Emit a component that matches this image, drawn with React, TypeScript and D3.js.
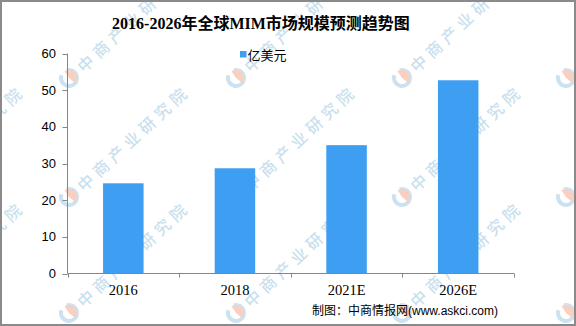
import React, { useEffect } from 'react';
import * as d3 from 'd3';

const categories = ['2016', '2018', '2021E', '2026E'];
const values = [24.6, 28.7, 35.0, 52.7];
const yTicks = [0, 10, 20, 30, 40, 50, 60];
const title = '2016-2026年全球MIM市场规模预测趋势图';
const seriesName = '亿美元';
const source = '制图：中商情报网(www.askci.com)';
const watermark = '中商产业研究院';
const wmXs = [-96, 69, 236, 402, 566];
const wmYs = [78, 197, 313];

const W = 576;
const H = 326;
const BAR = '#3d9ef2';
const AXIS = '#868686';

function Logo() {
  const arc = d3.arc();
  const blueArc = arc({ innerRadius: 6, outerRadius: 10, startAngle: Math.PI * 0.15, endAngle: Math.PI * 1.85 }) as string;
  const peach = arc({ innerRadius: 0, outerRadius: 8, startAngle: Math.PI * 0.05, endAngle: Math.PI * 0.95 }) as string;
  return (
    <g>
      <path d={blueArc} fill="#cde2f0" />
      <path d={peach} fill="#f7d0c0" />
    </g>
  );
}

export default function App() {
  useEffect(() => {
    document.body.style.margin = '0';
  }, []);

  const x = d3.scaleBand<string>().domain(categories).range([67.5, 514]).paddingInner(0.637).paddingOuter(0.3185);
  const y = d3.scaleLinear().domain([0, 60]).range([273.5, 53.5]);
  const step = x.step();
  const edges = d3.range(categories.length + 1).map((i) => 67.5 + i * step);

  return (
    <svg width={W} height={H} style={{ display: 'block', position: 'absolute', left: 0, top: 0 }}>
      <rect x={0} y={0} width={W} height={H} fill="#ffffff" />
      {/* watermark */}
      <g>
        {wmYs.map((wy) =>
          wmXs.map((wx) => (
            <g key={`${wx}-${wy}`} transform={`translate(${wx},${wy}) rotate(-43)`}>
              <Logo />
              <text
                x={14}
                y={0}
                dominantBaseline="central"
                fontFamily="'Noto Sans CJK SC'"
                fontWeight={500}
                fontSize={16}
                letterSpacing={5}
                fill="#c9dfee"
              >
                {watermark}
              </text>
            </g>
          ))
        )}
      </g>

      {/* title */}
      <text
        x={261}
        y={29}
        textAnchor="middle"
        fontFamily="'Liberation Serif', 'Noto Sans CJK SC'"
        fontWeight={700}
        fontSize={16}
        fill="#000"
      >
        {title}
      </text>

      {/* legend */}
      <rect x={240} y={51} width={6.5} height={6.5} fill={BAR} />
      <text x={247.5} y={59.5} fontFamily="'Noto Sans CJK SC'" fontSize={13} fill="#000">
        {seriesName}
      </text>

      {/* bars */}
      {categories.map((c, i) => (
        <rect
          key={c}
          x={x(c)}
          y={y(values[i])}
          width={x.bandwidth()}
          height={y(0) - y(values[i])}
          fill={BAR}
        />
      ))}

      {/* y axis */}
      <line x1={67.5} x2={67.5} y1={y(60)} y2={y(0)} stroke={AXIS} strokeWidth={1} />
      {yTicks.map((t) => (
        <g key={t}>
          <line x1={62.5} x2={67.5} y1={Math.round(y(t)) + 0.5} y2={Math.round(y(t)) + 0.5} stroke={AXIS} />
          <text
            x={56}
            y={y(t)}
            textAnchor="end"
            dominantBaseline="central"
            fontFamily="'Liberation Sans'"
            fontSize={13}
            fill="#000"
          >
            {t}
          </text>
        </g>
      ))}

      {/* x axis */}
      <line x1={67.5} x2={514} y1={273.5} y2={273.5} stroke={AXIS} />
      {edges.map((e, i) => (
        <line key={i} x1={Math.round(e) + 0.5} x2={Math.round(e) + 0.5} y1={273.5} y2={277.5} stroke={AXIS} />
      ))}
      {categories.map((c) => (
        <text
          key={c}
          x={(x(c) as number) + x.bandwidth() / 2}
          y={295}
          textAnchor="middle"
          fontFamily="'Liberation Serif'"
          fontSize={14.5}
          fill="#000"
        >
          {c}
        </text>
      ))}

      {/* source */}
      <text x={312} y={315} fontFamily="'Liberation Sans', 'Noto Sans CJK SC'" fontSize={12} fill="#000">
        {source}
      </text>

      {/* border */}
      <rect x={1} y={1} width={W - 2} height={H - 2} fill="none" stroke="#8a8a8a" strokeWidth={2} />
    </svg>
  );
}
